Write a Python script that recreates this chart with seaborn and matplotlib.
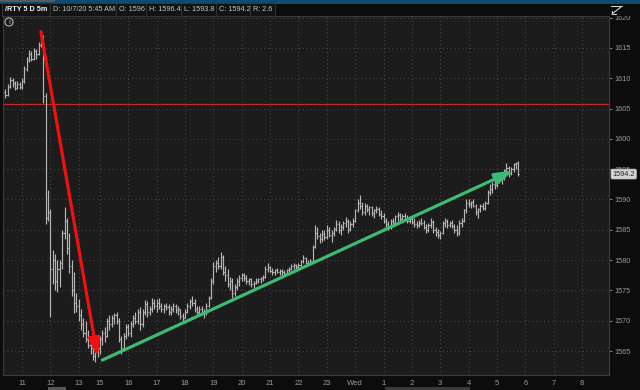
import numpy as np
import pandas as pd
import matplotlib
matplotlib.use("Agg")
import matplotlib.pyplot as plt
from matplotlib.patches import Rectangle
from matplotlib.lines import Line2D
import seaborn as sns

# /RTY 5m bars (Pacific time), listed by bar start time
SESSIONS = [("2020-10-06 10:25", "2020-10-06 13:10"),
            ("2020-10-06 13:30", "2020-10-06 13:55"),
            ("2020-10-06 15:00", "2020-10-07 05:45")]
FUTURE = ("2020-10-07 05:50", "2020-10-07 09:00")

first_open = 1607.8
closes = [
    1607.2, 1608.6, 1609.8, 1609.2, 1608.4, 1609.0, 1608.6,
    1609.5, 1611.5, 1613.0, 1614.0, 1613.2, 1614.5, 1614.0, 1615.5, 1616.8, 1607.0, 1587.0, 1588.0,
    1578.5, 1580.0, 1576.5, 1578.5, 1579.5, 1584.5, 1586.5, 1582.0, 1579.0, 1575.0, 1573.0, 1572.5,
    1571.0, 1569.5, 1568.0,
    1567.0, 1566.0, 1565.5, 1564.2, 1564.8, 1565.5,
    1567.0, 1568.0, 1567.5, 1570.0, 1569.5, 1570.5, 1571.0, 1570.0, 1567.0, 1565.5, 1567.5, 1569.0,
    1568.0, 1569.5, 1570.5, 1570.0, 1571.5, 1569.5, 1571.5, 1572.8, 1571.5, 1572.0, 1573.0, 1572.5,
    1573.0, 1572.5, 1572.0, 1572.5, 1572.2, 1571.5, 1572.0, 1572.5, 1571.8, 1572.0, 1570.8, 1570.5,
    1571.5, 1572.5, 1573.2, 1573.0, 1572.0, 1571.5, 1572.0, 1571.3, 1571.5, 1572.5, 1573.8, 1576.5,
    1579.0, 1579.5, 1579.0, 1580.5, 1578.0, 1577.5, 1576.0, 1576.5, 1574.5, 1575.5, 1576.5, 1577.0,
    1577.5, 1577.0, 1576.5, 1576.8, 1576.0, 1576.2, 1576.5, 1576.8, 1577.0, 1577.2, 1578.5, 1578.8,
    1578.2, 1578.0, 1578.3, 1578.0, 1578.2, 1578.0, 1577.9, 1578.3, 1578.6, 1579.0, 1579.2, 1578.9,
    1579.2, 1579.8, 1580.3, 1579.6, 1579.5, 1579.9, 1582.2, 1584.5, 1584.0, 1583.5, 1584.3, 1583.8,
    1585.0, 1584.2, 1584.5, 1585.2, 1586.0, 1585.0, 1585.5, 1586.2, 1586.5, 1585.2, 1586.0, 1586.5,
    1588.2, 1589.5, 1589.0, 1588.0, 1589.0, 1588.4, 1588.8, 1587.8, 1588.2, 1588.5, 1587.6, 1587.2,
    1586.5, 1586.0, 1585.5, 1586.4, 1586.2, 1587.2, 1587.5, 1586.8, 1587.2, 1587.0, 1586.5, 1586.8,
    1586.3, 1586.0, 1585.8, 1586.2, 1586.1, 1585.5, 1585.0, 1585.8, 1586.3, 1584.9, 1584.6, 1584.2,
    1584.5, 1586.2, 1586.5, 1585.8, 1586.2, 1585.6, 1585.0, 1584.5, 1586.2, 1586.4, 1588.2, 1589.4,
    1589.3, 1589.6, 1589.0, 1588.0, 1588.4, 1589.0, 1588.6, 1589.5, 1591.2, 1591.7, 1592.5, 1592.4,
    1593.4, 1593.2, 1593.6, 1594.8, 1595.2, 1594.3, 1595.0, 1595.8, 1596.0, 1594.2,
]
highs = [
    1608.2, 1609.0, 1610.2, 1610.0, 1609.5, 1609.6, 1609.4,
    1610.0, 1612.0, 1613.5, 1614.6, 1614.5, 1615.0, 1614.8, 1616.0, 1617.7, 1617.2, 1607.5, 1591.5,
    1588.5, 1581.7, 1581.0, 1580.0, 1580.0, 1585.0, 1588.8, 1587.0, 1584.5, 1580.0, 1578.0, 1574.6,
    1573.5, 1572.0, 1570.5,
    1570.0, 1568.5, 1567.0, 1566.0, 1565.7, 1566.5,
    1567.5, 1568.5, 1569.0, 1570.5, 1571.0, 1571.0, 1571.3, 1571.5, 1570.5, 1567.5, 1568.0, 1569.5,
    1569.5, 1570.0, 1571.0, 1571.5, 1572.0, 1572.3, 1572.0, 1573.4, 1573.2, 1572.5, 1573.7, 1573.5,
    1573.5, 1573.7, 1573.0, 1572.8, 1573.0, 1572.8, 1572.5, 1573.0, 1572.8, 1572.5, 1572.0, 1571.2,
    1572.0, 1573.0, 1573.5, 1574.0, 1573.5, 1572.5, 1572.5, 1572.5, 1572.0, 1573.0, 1574.0, 1577.0,
    1579.7, 1580.0, 1580.5, 1581.3, 1580.8, 1579.0, 1578.5, 1577.2, 1577.0, 1576.0, 1577.0, 1577.5,
    1577.9, 1577.8, 1577.5, 1577.0, 1577.0, 1576.5, 1577.0, 1577.0, 1577.2, 1577.5, 1579.0, 1579.5,
    1579.0, 1578.7, 1578.5, 1578.7, 1578.5, 1578.5, 1578.4, 1578.5, 1578.8, 1579.3, 1579.5, 1579.4,
    1579.5, 1580.0, 1580.8, 1580.5, 1580.0, 1580.2, 1582.5, 1585.8, 1585.5, 1584.5, 1585.0, 1585.0,
    1585.8, 1585.5, 1585.0, 1585.5, 1586.6, 1586.5, 1586.0, 1586.5, 1587.1, 1586.8, 1586.5, 1587.0,
    1588.5, 1590.0, 1590.7, 1589.6, 1589.4, 1589.3, 1589.0, 1589.0, 1588.5, 1589.0, 1588.8, 1588.3,
    1587.8, 1587.0, 1586.5, 1586.8, 1587.0, 1587.5, 1588.0, 1587.8, 1587.6, 1587.8, 1587.5, 1587.2,
    1587.3, 1587.0, 1586.5, 1586.6, 1587.0, 1586.6, 1586.0, 1586.2, 1587.0, 1586.6, 1585.5, 1585.2,
    1584.8, 1586.5, 1587.0, 1586.8, 1586.5, 1586.6, 1586.0, 1585.8, 1586.6, 1587.0, 1588.5, 1590.0,
    1590.0, 1589.8, 1590.0, 1589.3, 1588.6, 1589.2, 1589.4, 1589.8, 1591.5, 1592.5, 1592.9, 1593.4,
    1593.8, 1594.4, 1594.0, 1595.0, 1596.0, 1595.5, 1595.3, 1596.0, 1596.2, 1596.4,
]
lows = [
    1606.8, 1607.0, 1608.4, 1608.6, 1608.0, 1608.2, 1608.2,
    1608.3, 1609.2, 1611.2, 1612.7, 1612.8, 1613.0, 1613.2, 1613.8, 1615.2, 1606.0, 1586.0, 1586.5,
    1570.6, 1576.0, 1575.0, 1574.7, 1575.5, 1578.5, 1583.5, 1581.0, 1577.9, 1574.0, 1571.3, 1571.5,
    1570.0, 1568.5, 1567.3,
    1566.5, 1565.5, 1564.5, 1563.5, 1563.2, 1564.0,
    1564.5, 1566.0, 1566.5, 1567.3, 1568.5, 1569.0, 1569.5, 1569.5, 1566.5, 1564.5, 1565.0, 1567.0,
    1567.5, 1567.3, 1569.0, 1569.5, 1569.5, 1568.5, 1569.0, 1571.0, 1570.6, 1571.0, 1571.5, 1572.0,
    1571.5, 1572.0, 1571.5, 1571.2, 1571.8, 1571.0, 1571.0, 1571.5, 1571.3, 1571.0, 1570.2, 1570.0,
    1570.5, 1571.3, 1572.0, 1572.5, 1571.5, 1571.0, 1571.0, 1571.0, 1570.5, 1571.0, 1572.3, 1573.5,
    1576.0, 1578.0, 1578.5, 1578.5, 1577.5, 1576.5, 1575.5, 1575.0, 1573.7, 1574.0, 1575.0, 1575.8,
    1576.5, 1576.5, 1576.0, 1575.9, 1575.5, 1575.0, 1576.0, 1576.2, 1576.3, 1576.5, 1577.0, 1578.0,
    1578.0, 1577.5, 1577.5, 1577.8, 1577.5, 1577.6, 1577.5, 1577.7, 1578.0, 1578.4, 1578.6, 1578.5,
    1578.5, 1578.9, 1579.5, 1579.3, 1579.2, 1579.2, 1579.7, 1582.0, 1583.5, 1582.8, 1583.0, 1583.3,
    1583.5, 1583.8, 1583.0, 1584.0, 1584.8, 1584.5, 1584.1, 1585.0, 1585.5, 1584.5, 1584.8, 1585.5,
    1586.3, 1588.0, 1588.5, 1587.5, 1587.4, 1588.0, 1587.5, 1587.3, 1587.0, 1587.8, 1587.2, 1586.8,
    1586.1, 1585.5, 1585.0, 1585.2, 1585.8, 1586.0, 1586.5, 1586.3, 1586.3, 1586.5, 1586.1, 1586.2,
    1586.0, 1585.5, 1585.3, 1585.4, 1585.8, 1585.2, 1584.5, 1584.6, 1585.3, 1584.5, 1584.0, 1583.6,
    1583.5, 1584.3, 1585.5, 1585.3, 1585.4, 1585.3, 1584.5, 1584.0, 1584.2, 1585.5, 1586.3, 1587.8,
    1588.8, 1588.6, 1588.8, 1587.5, 1587.0, 1588.0, 1588.2, 1588.3, 1589.2, 1590.8, 1591.0, 1591.8,
    1592.0, 1592.8, 1592.5, 1593.2, 1594.2, 1593.7, 1594.0, 1594.5, 1595.0, 1593.8,
]

level_price = 1605.7
red_trend_times = ["2020-10-06 11:40", "2020-10-06 13:55"]
red_trend_prices = [1617.7, 1564.0]
green_trend_times = ["2020-10-06 15:05", "2020-10-07 05:35"]
green_trend_prices = [1563.5, 1594.8]
price_ticks = [1565, 1570, 1575, 1580, 1585, 1590, 1595, 1600, 1605, 1610, 1615, 1620]
header_fields = ["/RTY 5 D 5m", "D: 10/7/20 5:45 AM", "O: 1596", "H: 1596.4",
                 "L: 1593.8", "C: 1594.2", "R: 2.6"]

# ---------------------------------------------------------------------------
bar_times = pd.DatetimeIndex(np.concatenate(
    [pd.date_range(a, b, freq="5min").values for a, b in SESSIONS]))
all_times = bar_times.append(pd.date_range(*FUTURE, freq="5min"))
pos = {t: i for i, t in enumerate(all_times)}

df = pd.DataFrame({"time": bar_times, "high": highs, "low": lows, "close": closes})
df["open"] = df["close"].shift(1).fillna(first_open)
df["x"] = np.arange(len(df))
lo = df[["low", "open", "close"]].min(axis=1)
hi = df[["high", "open", "close"]].max(axis=1)

sns.set_theme(style="dark", rc={
    "figure.facecolor": "#0c0c0c",
    "axes.facecolor": "#1c1c1c",
    "axes.edgecolor": "#3c3c3c",
    "axes.linewidth": 0.8,
})
plt.rcParams["font.family"] = ["Liberation Sans", "DejaVu Sans"]

fig = plt.figure(figsize=(6.4, 3.9), dpi=100)
W, H = 640.0, 390.0
ax = fig.add_axes([3 / W, 15 / H, 606 / W, 359 / H])

bar_col = "#b6b6b6"
ax.vlines(df["x"], lo, hi, color=bar_col, lw=0.85, zorder=3)
ax.hlines(df["open"], df["x"] - 0.45, df["x"], color=bar_col, lw=0.85, zorder=3)
ax.hlines(df["close"], df["x"], df["x"] + 0.45, color=bar_col, lw=0.85, zorder=3)

ax.axhline(level_price, color="#c0282a", lw=0.9, zorder=2)

def trend(times, prices, color):
    x0, x1 = pos[pd.Timestamp(times[0])], pos[pd.Timestamp(times[1])]
    ax.annotate("", xy=(x1, prices[1]), xytext=(x0, prices[0]),
                arrowprops=dict(arrowstyle="-|>,head_length=0.9,head_width=0.28",
                                color=color, lw=2.3, mutation_scale=12,
                                shrinkA=0, shrinkB=0), zorder=5)

trend(red_trend_times, red_trend_prices, "#f01010")
trend(green_trend_times, green_trend_prices, "#3dbb72")

# hour ticks
hour_idx = [i for i, t in enumerate(all_times) if t.minute == 0]
hour_lab = ["Wed" if all_times[i].hour == 0 else str(all_times[i].hour) for i in hour_idx]
ax.set_xticks(hour_idx)
ax.set_xticklabels(hour_lab)
ax.set_yticks(price_ticks)
ax.yaxis.tick_right()
ax.set_xlim(-1.04, 255.4)
ax.set_ylim(1561.04, 1620.28)
ax.grid(True, color="#4a4a4a", linestyle=(0, (1, 3)), linewidth=0.7)
ax.tick_params(axis="x", labelsize=5.5, colors="#9a9a9a", length=0, pad=3.5)
ax.tick_params(axis="y", labelsize=5.2, colors="#9a9a9a", length=2.5, width=0.6, pad=1.5)
for s in ax.spines.values():
    s.set_visible(True)
    s.set_color("#3c3c3c")

ax.annotate(f"{closes[-1]:.1f}", xy=(1.0, closes[-1]), xycoords=("axes fraction", "data"),
            xytext=(2.5, 0), textcoords="offset points", ha="left", va="center",
            fontsize=5.3, color="#262626", annotation_clip=False, zorder=6,
            bbox=dict(boxstyle="round,pad=0.2", fc="#d4d4d4", ec="#b0b0b0", lw=0.5))

# chrome: top blue strip, header row, icons, scrollbar
def px_rect(x, y, w, h, color, z=10):
    fig.add_artist(Rectangle((x / W, 1 - (y + h) / H), w / W, h / H,
                             transform=fig.transFigure, color=color, zorder=z, lw=0))

px_rect(0, 0, W, 4, "#0f4a70")
px_rect(0, 0, 55, 2, "#5a5a5a")
px_rect(0, 4, W, 12, "#0c0c0c")
px_rect(0, 15.5, 609, 0.8, "#2e2e2e")

hx = [5, 53, 119, 149, 184, 219, 253]
for i, (x, txt) in enumerate(zip(hx, header_fields)):
    fig.text(x / W, 1 - 9.5 / H, txt, fontsize=5.2, va="center", ha="left",
             color="#f0f0f0" if i == 0 else "#c4c4c4",
             fontweight="bold" if i == 0 else "normal", zorder=11,
             bbox=dict(boxstyle="square,pad=0.35", fc="#131313", ec="#383838", lw=0.6))

fig.text(9 / W, 1 - 22 / H, "!", fontsize=4.5, color="#c8c8c8", ha="center", va="center",
         fontweight="bold", zorder=11,
         bbox=dict(boxstyle="circle,pad=0.25", fc="none", ec="#c8c8c8", lw=0.7))

fig.add_artist(Line2D([611 / W, 622 / W], [1 - 6 / H, 1 - 6 / H], transform=fig.transFigure,
                      color="#d0d0d0", lw=0.8, zorder=12))
fig.add_artist(Line2D([621 / W, 612 / W], [1 - 7 / H, 1 - 14 / H], transform=fig.transFigure,
                      color="#d0d0d0", lw=0.8, zorder=12))
fig.add_artist(Line2D([612 / W, 612 / W, 616 / W], [1 - 10.5 / H, 1 - 14 / H, 1 - 14 / H],
                      transform=fig.transFigure, color="#d0d0d0", lw=0.8, zorder=12))

px_rect(48, 387, 18, 3, "#555555")
px_rect(385, 387, 85, 3, "#3a3a3a")

fig.savefig("out.png", dpi=100, facecolor=fig.get_facecolor())
